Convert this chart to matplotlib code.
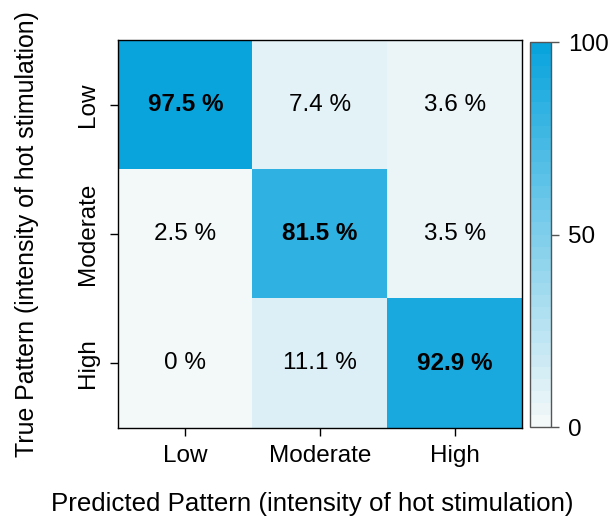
import numpy as np
import matplotlib as mpl
import matplotlib.pyplot as plt
from matplotlib.colors import LinearSegmentedColormap

plt.rcParams['font.family'] = ['Liberation Sans', 'DejaVu Sans']
plt.rcParams['font.size'] = 17.5

classes = ['Low', 'Moderate', 'High']
# rows = true pattern, cols = predicted pattern
conf = np.array([[97.5, 7.4, 3.6],
                 [2.5, 81.5, 3.5],
                 [0.0, 11.1, 92.9]])
labels = [['97.5 %', '7.4 %', '3.6 %'],
          ['2.5 %', '81.5 %', '3.5 %'],
          ['0 %', '11.1 %', '92.9 %']]

cmap = LinearSegmentedColormap.from_list('blu', ['#f3f8f9', '#0aa4dd'], N=32)

fig = plt.figure(figsize=(6.12, 5.25), dpi=100)
ax = fig.add_axes([118/612, 1-428/525, 404/612, 388/525])
cax = fig.add_axes([530/612, 1-427/525, 21/612, 385/525])

im = ax.imshow(conf, cmap=cmap, vmin=0, vmax=100, aspect='auto')
for i in range(3):
    for j in range(3):
        ax.text(j, i, labels[i][j], ha='center', va='center',
                fontweight='bold' if i == j else 'normal')

ax.set_xticks(range(3))
ax.set_xticklabels(classes)
ax.set_yticks(range(3))
ax.set_yticklabels(classes, rotation=90, va='center')
ax.tick_params(length=6, width=1, pad=6)
ax.tick_params(axis='y', pad=8)
ax.set_xlabel('Predicted Pattern (intensity of hot stimulation)',
              fontsize=18.6, labelpad=18)
ax.xaxis.label.set_x(0.48)
ax.set_ylabel('True Pattern (intensity of hot stimulation)',
              fontsize=17.9, labelpad=27)
for s in ax.spines.values():
    s.set_linewidth(1)

cb = fig.colorbar(im, cax=cax, ticks=[0, 50, 100])
cb.outline.set_edgecolor('#555555')
cb.outline.set_linewidth(1)
cax.tick_params(length=6, width=1, color='#555555', pad=6)

plt.savefig('out.png', dpi=100)
plt.close()
